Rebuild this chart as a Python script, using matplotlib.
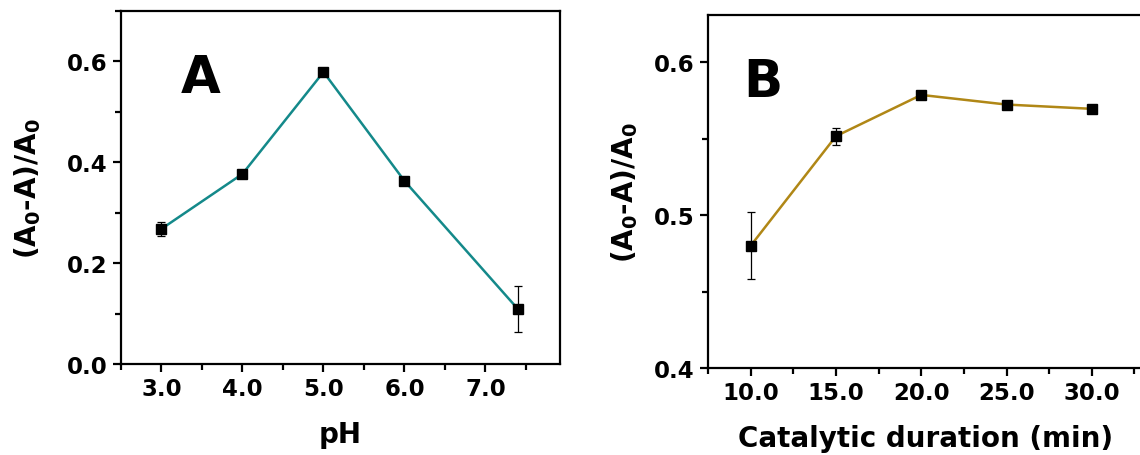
import matplotlib
matplotlib.use('Agg')
import matplotlib.pyplot as plt
from matplotlib.ticker import MultipleLocator, FormatStrFormatter

# wide bold sans, the reference lettering is broad
plt.rcParams['font.family'] = ['DejaVu Sans']
plt.rcParams['font.weight'] = 'bold'
plt.rcParams['mathtext.fontset'] = 'custom'
plt.rcParams['mathtext.rm'] = 'DejaVu Sans:bold'
plt.rcParams['mathtext.it'] = 'DejaVu Sans:bold'
plt.rcParams['mathtext.bf'] = 'DejaVu Sans:bold'
plt.rcParams['mathtext.default'] = 'rm'

# panel A: pH
ph = [3.0, 4.0, 5.0, 6.0, 7.4]
ph_val = [0.268, 0.377, 0.579, 0.363, 0.109]
ph_err = [0.014, 0.003, 0.006, 0.003, 0.045]

# panel B: catalytic duration
dur = [10, 15, 20, 25, 30]
dur_val = [0.480, 0.5517, 0.5787, 0.5724, 0.5696]
dur_err = [0.022, 0.0055, 0.0012, 0.0012, 0.0012]

ylab = r'(A$_0$-A)/A$_0$'

W, H = 1140, 456
fig = plt.figure(figsize=(W / 100, H / 100), dpi=100)
axA = fig.add_axes([121 / W, 1 - 365 / H, (560 - 121) / W, (365 - 12) / H])
axB = fig.add_axes([708 / W, 1 - 369 / H, (1143 - 708) / W, (369 - 16) / H])


def style(ax):
    for s in ax.spines.values():
        s.set_linewidth(1.6)
    ax.tick_params(which='both', direction='out', top=False, right=False,
                   width=1.6, labelsize=16.5)
    ax.tick_params(which='major', length=6)
    ax.tick_params(which='minor', length=4)
    for lab in ax.get_xticklabels() + ax.get_yticklabels():
        lab.set_fontweight('bold')


axA.errorbar(ph, ph_val, yerr=ph_err, color='#14898A', lw=1.8, marker='s',
             ms=6.5, mfc='black', mec='black', ecolor='black', elinewidth=0.9,
             capsize=3, capthick=0.9)
axA.set_xlim(2.5, 7.92)
axA.set_ylim(0, 0.7)
axA.xaxis.set_major_locator(MultipleLocator(1.0))
axA.xaxis.set_minor_locator(MultipleLocator(0.5))
axA.yaxis.set_major_locator(MultipleLocator(0.2))
axA.yaxis.set_minor_locator(MultipleLocator(0.1))
axA.xaxis.set_major_formatter(FormatStrFormatter('%.1f'))
axA.yaxis.set_major_formatter(FormatStrFormatter('%.1f'))
axA.set_xlabel('pH', fontsize=20, fontweight='bold', labelpad=14)
axA.set_ylabel(ylab, fontsize=20, fontweight='bold', labelpad=17)
axA.text(0.135, 0.77, 'A', transform=axA.transAxes, fontsize=37, fontweight='bold')
style(axA)

axB.errorbar(dur, dur_val, yerr=dur_err, color='#B08716', lw=1.8, marker='s',
             ms=6.5, mfc='black', mec='black', ecolor='black', elinewidth=0.9,
             capsize=3, capthick=0.9)
axB.set_xlim(7.5, 33.0)
axB.set_ylim(0.4, 0.631)
axB.xaxis.set_major_locator(MultipleLocator(5))
axB.xaxis.set_minor_locator(MultipleLocator(2.5))
axB.yaxis.set_major_locator(MultipleLocator(0.1))
axB.yaxis.set_minor_locator(MultipleLocator(0.05))
axB.xaxis.set_major_formatter(FormatStrFormatter('%.1f'))
axB.yaxis.set_major_formatter(FormatStrFormatter('%.1f'))
axB.set_xlabel('Catalytic duration (min)', fontsize=20, fontweight='bold', labelpad=14)
axB.set_ylabel(ylab, fontsize=20, fontweight='bold', labelpad=10)
axB.text(0.08, 0.77, 'B', transform=axB.transAxes, fontsize=37, fontweight='bold')
style(axB)

fig.savefig('out.png', dpi=100)
